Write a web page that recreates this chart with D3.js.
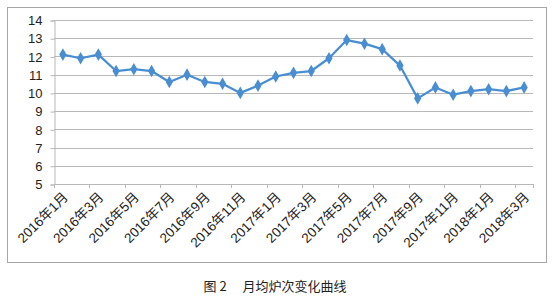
<!DOCTYPE html>
<html>
<head>
<meta charset="utf-8">
<script src="https://cdn.jsdelivr.net/npm/d3@7"></script>
<style>
  body { margin: 0; background: #fff; }
  svg text { font-family: "Liberation Sans", "Noto Sans CJK SC", sans-serif; fill: #222; }
</style>
</head>
<body>
<svg id="chart" width="552" height="298"></svg>
<script>
var months = ["2016年1月","2016年2月","2016年3月","2016年4月","2016年5月","2016年6月","2016年7月","2016年8月","2016年9月","2016年10月","2016年11月","2016年12月",
              "2017年1月","2017年2月","2017年3月","2017年4月","2017年5月","2017年6月","2017年7月","2017年8月","2017年9月","2017年10月","2017年11月","2017年12月",
              "2018年1月","2018年2月","2018年3月"];
var values = [12.1, 11.9, 12.1, 11.2, 11.3, 11.2, 10.6, 11.0, 10.6, 10.5, 10.0, 10.4,
              10.9, 11.1, 11.2, 11.9, 12.9, 12.7, 12.4, 11.5, 9.7, 10.3, 9.9, 10.1,
              10.2, 10.1, 10.3];
var yTicks = [5, 6, 7, 8, 9, 10, 11, 12, 13, 14];
var caption = "图 2　 月均炉次变化曲线";

function createChart() {
    var svg = d3.select("#chart");
    var left = 54, right = 533, top = 20, bottom = 184;

    // outer chart frame
    svg.append("rect")
        .attr("x", 7.5).attr("y", 7.5)
        .attr("width", 539).attr("height", 255)
        .attr("fill", "none").attr("stroke", "#a6a6a6");

    var x = d3.scaleBand().domain(months).range([left, right]);
    var y = d3.scaleLinear().domain([5, 14]).range([bottom, top]);

    // gridlines
    svg.append("g")
        .selectAll("line")
        .data(yTicks.slice(1))
        .enter()
        .append("line")
            .attr("x1", left).attr("x2", right)
            .attr("y1", function(d) { return Math.round(y(d)) + 0.5; })
            .attr("y2", function(d) { return Math.round(y(d)) + 0.5; })
            .attr("stroke", "#b8b8b8").attr("stroke-width", 1);

    // y axis
    var yAxis = svg.append("g")
        .attr("transform", "translate(" + (left + 0.5) + ",0.5)")
        .call(d3.axisLeft(y).tickValues(yTicks).tickSize(4).tickPadding(8));
    yAxis.select(".domain").attr("stroke", "#b8b8b8");
    yAxis.selectAll(".tick line").attr("stroke", "#b8b8b8");
    yAxis.selectAll("text").style("font-size", "13px").attr("fill", "#222");

    // x axis: ticks every two months on band boundaries
    var boundaries = d3.range(0, months.length + 1, 2).map(function(i) { return left + i * x.step(); });
    boundaries.push(right);
    svg.append("line")
        .attr("x1", left).attr("x2", right)
        .attr("y1", bottom + 0.5).attr("y2", bottom + 0.5)
        .attr("stroke", "#b8b8b8");
    svg.append("g")
        .selectAll("line")
        .data(boundaries)
        .enter()
        .append("line")
            .attr("x1", function(d) { return Math.round(d) + 0.5; })
            .attr("x2", function(d) { return Math.round(d) + 0.5; })
            .attr("y1", bottom).attr("y2", bottom + 4)
            .attr("stroke", "#b8b8b8");

    svg.append("g")
        .selectAll("text")
        .data(months.filter(function(d, i) { return i % 2 === 0; }))
        .enter()
        .append("text")
            .attr("text-anchor", "end")
            .style("font-size", "13.5px")
            .attr("transform", function(d) {
                return "translate(" + (x(d) + x.bandwidth() / 2 + 6) + "," + (bottom + 14) + ") rotate(-45)";
            })
            .text(function(d) { return d; });

    // line
    var line = d3.line()
        .x(function(d, i) { return x(months[i]) + x.bandwidth() / 2; })
        .y(function(d) { return y(d); });

    svg.append("path")
        .datum(values)
        .attr("d", line)
        .attr("fill", "none")
        .attr("stroke", "#4a8ed2")
        .attr("stroke-width", 2.25)
        .attr("stroke-linejoin", "round");

    svg.append("g")
        .selectAll("path")
        .data(values)
        .enter()
        .append("path")
            .attr("d", d3.symbol().type(d3.symbolDiamond).size(46))
            .attr("fill", "#4a8ed2")
            .attr("transform", function(d, i) {
                return "translate(" + (x(months[i]) + x.bandwidth() / 2) + "," + y(d) + ")";
            });

    // caption
    svg.append("text")
        .attr("x", 275).attr("y", 291)
        .attr("text-anchor", "middle")
        .style("font-family", "'Noto Sans CJK SC', sans-serif")
        .style("font-size", "13px")
        .attr("fill", "#111")
        .text(caption);
}

createChart();
</script>
</body>
</html>
